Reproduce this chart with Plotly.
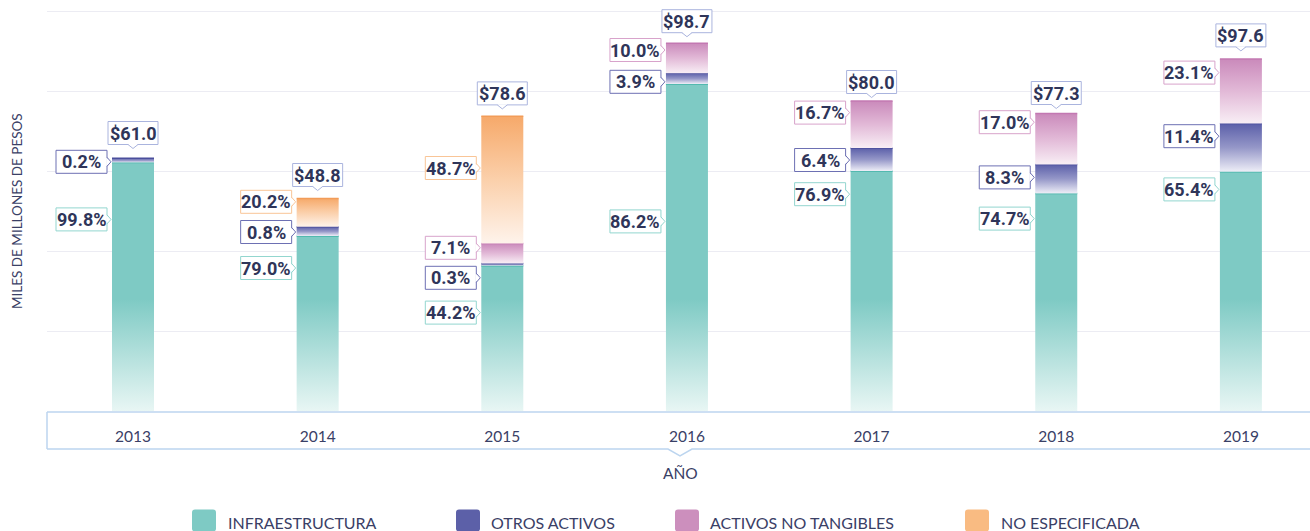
import plotly.graph_objects as go

# ---------------- data ----------------
years = ["2013", "2014", "2015", "2016", "2017", "2018", "2019"]
# stacked segment heights in axis units (gridline step = 20, no tick labels shown)
infra = [62.1, 43.75, 36.3, 81.75, 60.0, 54.4, 59.8]
otros = [1.1, 2.3, 0.6, 2.7, 5.75, 7.25, 12.1]
intang = [0, 0, 5.0, 7.5, 11.75, 12.75, 16.1]
noesp = [0, 7.1, 31.8, 0, 0, 0, 0]

total_labels = ["$61.0", "$48.8", "$78.6", "$98.7", "$80.0", "$77.3", "$97.6"]
pct_infra = ["99.8%", "79.0%", "44.2%", "86.2%", "76.9%", "74.7%", "65.4%"]
pct_otros = ["0.2%", "0.8%", "0.3%", "3.9%", "6.4%", "8.3%", "11.4%"]
pct_intang = [None, None, "7.1%", "10.0%", "16.7%", "17.0%", "23.1%"]
pct_noesp = [None, "20.2%", "48.7%", None, None, None, None]

legend_names = ["INFRAESTRUCTURA", "OTROS ACTIVOS", "ACTIVOS NO TANGIBLES", "NO ESPECIFICADA"]

# ---------------- label placement (layout, axis units) ----------------
lab_total_y = [69.5, 59.0, 79.4, 97.45, 82.25, 79.5, 93.9]
lab_infra_y = [47.9, 35.75, 24.6, 47.4, 54.2, 48.1, 55.4]
lab_otros_y = [62.3, 44.75, 33.3, 82.3, 62.75, 58.4, 68.7]
lab_intang_y = [None, None, 40.8, 90.25, 74.6, 72.2, 84.6]
lab_noesp_y = [None, 52.3, 60.75, None, None, None, None]

# ---------------- styles ----------------
TEXT = "#2f3559"
AXIS_TXT = "#3a4066"
NUM_FONT = "Liberation Sans Narrow, Roboto, Lato, sans-serif"
TXT_FONT = "Lato, Open Sans, sans-serif"
W = 0.2275  # bar width in x units

styles = {
    "INFRAESTRUCTURA": dict(solid="#7ecac4", top="#45b3a8", border="#93d6cf",
                            cs=[[0, "#e8f6f4"], [1, "#7ecac4"]], absolute=(0, 28)),
    "OTROS ACTIVOS": dict(solid="#5c60a8", top="#4a4e9c", border="#6d70b3",
                          cs=[[0, "#eeeef7"], [0.5, "#9597c8"], [1, "#5b5fa9"]], absolute=None),
    "ACTIVOS NO TANGIBLES": dict(solid="#cc8fbd", top="#c378b2", border="#d8a3cb",
                                 cs=[[0, "#f8eef5"], [0.5, "#e2b9d7"], [1, "#ca8abb"]], absolute=None),
    "NO ESPECIFICADA": dict(solid="#f9bb82", top="#f29c58", border="#f9c597",
                            cs=[[0, "#fef3eb"], [0.5, "#fbd0ab"], [1, "#f6a96a"]], absolute=None),
}
TOTAL_BORDER = "#aab4de"

series = [
    ("INFRAESTRUCTURA", infra, pct_infra, lab_infra_y),
    ("OTROS ACTIVOS", otros, pct_otros, lab_otros_y),
    ("ACTIVOS NO TANGIBLES", intang, pct_intang, lab_intang_y),
    ("NO ESPECIFICADA", noesp, pct_noesp, lab_noesp_y),
]

fig = go.Figure()
shapes = []
annotations = []

n = len(years)
base = [0.0] * n
for name, vals, pcts, laby in series:
    st = styles[name]
    top_x, top_y = [], []
    for i in range(n):
        v = vals[i]
        if not v:
            continue
        b = base[i]
        t = b + v
        if st["absolute"]:
            g0, g1 = st["absolute"]
        else:
            g0, g1 = b, t
        fig.add_trace(go.Scatter(
            x=[i - W / 2, i + W / 2, i + W / 2, i - W / 2, i - W / 2],
            y=[b, b, t, t, b],
            mode="lines", line=dict(width=0), fill="toself",
            fillcolor=st["solid"],
            fillgradient=dict(type="vertical", colorscale=st["cs"], start=g0, stop=g1),
            hoverinfo="skip", showlegend=False, name=name))
        top_x += [i - W / 2, i + W / 2, None]
        top_y += [t, t, None]
        base[i] = t
    fig.add_trace(go.Scatter(x=top_x, y=top_y, mode="lines",
                             line=dict(color=st["top"], width=1.5),
                             hoverinfo="skip", showlegend=False))

    # percentage callouts
    for i in range(n):
        if pcts[i] is None:
            continue
        xa, ya = i - W / 2, laby[i]
        common = dict(xref="x", yref="y", xsizemode="pixel", ysizemode="pixel",
                      xanchor=xa, yanchor=ya, layer="above")
        shapes.append(dict(type="rect", x0=-56, x1=-5, y0=-11.5, y1=11.5,
                           fillcolor="white", line=dict(color=st["border"], width=1), **common))
        shapes.append(dict(type="path", path="M-5.9,-4.6 L-1,0 L-5.9,4.6 Z",
                           fillcolor="white", line=dict(width=0), **common))
        shapes.append(dict(type="path", path="M-5,-4.5 L-1,0 L-5,4.5",
                           fillcolor="rgba(0,0,0,0)", line=dict(color=st["border"], width=1), **common))
        annotations.append(dict(x=xa, y=ya, xref="x", yref="y", xshift=-30.5, yshift=0,
                                text=pcts[i], showarrow=False, xanchor="center", yanchor="middle",
                                font=dict(family=NUM_FONT, size=18, color=TEXT, weight="bold")))

# total callouts
for i in range(n):
    xa, ya = i, lab_total_y[i]
    common = dict(xref="x", yref="y", xsizemode="pixel", ysizemode="pixel",
                  xanchor=xa, yanchor=ya, layer="above")
    shapes.append(dict(type="rect", x0=-25, x1=25, y0=-11.5, y1=11.5,
                       fillcolor="white", line=dict(color=TOTAL_BORDER, width=1), **common))
    shapes.append(dict(type="path", path="M-5.2,-10.9 L0,-15.5 L5.2,-10.9 Z",
                       fillcolor="white", line=dict(width=0), **common))
    shapes.append(dict(type="path", path="M-5,-11.5 L0,-15.5 L5,-11.5",
                       fillcolor="rgba(0,0,0,0)", line=dict(color=TOTAL_BORDER, width=1), **common))
    annotations.append(dict(x=xa, y=ya, xref="x", yref="y", text=total_labels[i],
                            showarrow=False, xanchor="center", yanchor="middle",
                            font=dict(family=NUM_FONT, size=18, color=TEXT, weight="bold")))

# ---------------- axis box & titles (paper coords) ----------------
L, R, TOP, BOT = 47, 1310, 1, 411
def px(xp):
    return (xp - L) / (R - L)
def py(yp):
    return (BOT - yp) / (BOT - TOP)

BOX = "#bcd5ef"
shapes.append(dict(type="line", xref="paper", yref="paper", x0=px(47), x1=px(1320),
                   y0=py(412), y1=py(412), line=dict(color=BOX, width=1.5), layer="above"))
shapes.append(dict(type="line", xref="paper", yref="paper", x0=px(47), x1=px(47),
                   y0=py(412), y1=py(449), line=dict(color=BOX, width=1.5), layer="above"))
shapes.append(dict(type="path", xref="paper", yref="paper",
                   path=(f"M{px(47)},{py(449)} L{px(668)},{py(449)} L{px(680)},{py(456)} "
                         f"L{px(692)},{py(449)} L{px(1320)},{py(449)}"),
                   fillcolor="rgba(0,0,0,0)", line=dict(color=BOX, width=1.5), layer="above"))

annotations.append(dict(xref="paper", yref="paper", x=px(680), y=py(473), text="AÑO",
                        showarrow=False, xanchor="center", yanchor="middle",
                        font=dict(family=TXT_FONT, size=15.5, color=AXIS_TXT)))
annotations.append(dict(xref="paper", yref="paper", x=px(17), y=py(211),
                        text="MILES DE MILLONES DE PESOS", textangle=-90,
                        showarrow=False, xanchor="center", yanchor="middle",
                        font=dict(family=TXT_FONT, size=13.5, color=AXIS_TXT)))

# ---------------- legend (drawn) ----------------
sw_left = [192, 456, 675, 965]
txt_left = [226, 489, 708, 999]
sw_w, sw_h, r = 24, 22, 3
sw_path = (f"M{r},0 L{sw_w - r},0 Q{sw_w},0 {sw_w},{-r} L{sw_w},{-(sw_h - r)} "
           f"Q{sw_w},{-sw_h} {sw_w - r},{-sw_h} L{r},{-sw_h} Q0,{-sw_h} 0,{-(sw_h - r)} "
           f"L0,{-r} Q0,0 {r},0 Z")
for k, name in enumerate(legend_names):
    shapes.append(dict(type="path", xref="paper", yref="paper", xsizemode="pixel",
                       ysizemode="pixel", xanchor=px(sw_left[k]), yanchor=py(509.5),
                       path=sw_path, fillcolor=styles[name]["solid"], line=dict(width=0)))
    annotations.append(dict(xref="paper", yref="paper", x=px(txt_left[k]), y=py(522),
                            text=name, showarrow=False, xanchor="left", yanchor="middle",
                            font=dict(family=TXT_FONT, size=16, color=AXIS_TXT)))

r0 = -(133 - L) / 184.65
r1 = r0 + (R - L) / 184.65

fig.update_layout(
    width=1310, height=531,
    margin=dict(l=L, r=0, t=TOP, b=531 - BOT),
    paper_bgcolor="white", plot_bgcolor="white",
    showlegend=False,
    shapes=shapes, annotations=annotations,
    xaxis=dict(range=[r0, r1], tickmode="array", tickvals=list(range(n)), ticktext=years,
               showgrid=False, zeroline=False, showline=False, ticks="",
               ticklabelstandoff=14,
               tickfont=dict(family=TXT_FONT, size=15.5, color=AXIS_TXT), fixedrange=True),
    yaxis=dict(range=[0, 102.5], dtick=20, tick0=0, showgrid=True, gridcolor="#ececf3",
               gridwidth=1, zeroline=False, showline=False, showticklabels=False,
               fixedrange=True),
)

fig.write_html("out.html", config={"displayModeBar": False},
               post_script="document.body.style.margin='0';document.body.style.overflow='hidden';")
